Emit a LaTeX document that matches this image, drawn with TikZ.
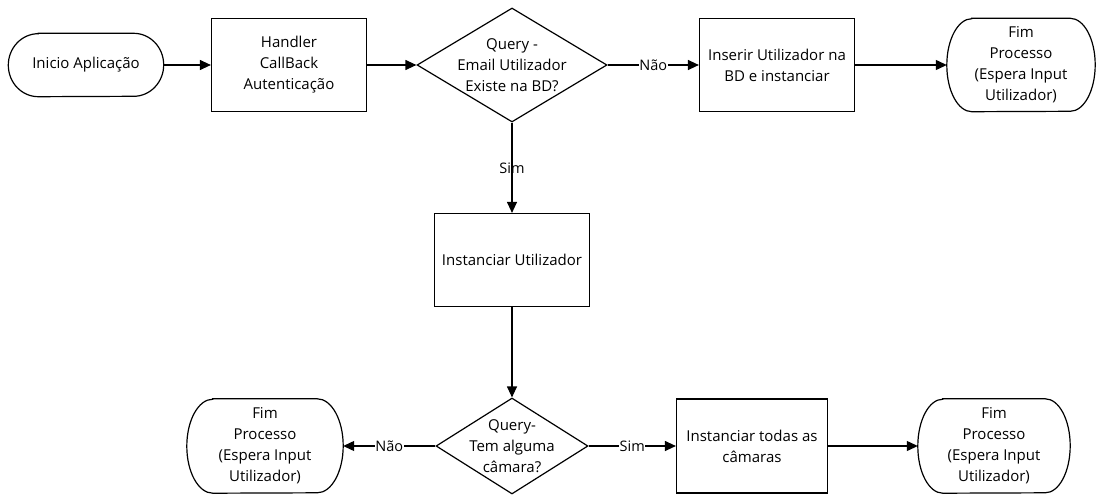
\documentclass[tikz,border=0pt]{standalone}
\usepackage{fontspec}
\setmainfont{Open Sans}
\usetikzlibrary{shapes.geometric,arrows.meta}
\begin{document}
\begin{tikzpicture}[x=1pt,y=-1pt,
  every node/.style={font=\fontsize{15}{21}\selectfont, align=center, text=black},
  box/.style={draw, line width=1.2pt, minimum width=155pt, minimum height=93pt, inner sep=0pt},
  term/.style={minimum height=93pt, inner sep=0pt},
  dec/.style={draw, diamond, line width=1.2pt, inner sep=0pt},
  arr/.style={line width=1.2pt, -{Triangle[length=11pt,width=10pt]}},
  lbl/.style={fill=white, inner sep=0.5pt, font=\fontsize{14.5}{17}\selectfont},
  vlbl/.style={inner sep=0pt, font=\fontsize{14.5}{17}\selectfont}]
\useasboundingbox (0,0) rectangle (1097,495);

% top row
\node[term, minimum width=155pt, minimum height=63pt] (start) at (86,65) {Inicio Aplicação};
\node[box] (handler) at (289,65) {Handler\\CallBack\\Autenticação};
\node[dec, minimum width=190pt, minimum height=114pt,
      label={center:{Query -\\Email Utilizador\\Existe na BD?}}] (q1) at (512,65) {};
\node[box] (ins) at (777,65) {Inserir Utilizador na\\BD e instanciar};
\node[term, minimum width=148pt] (fimA) at (1021,65) {Fim\\Processo\\(Espera Input\\Utilizador)};

% middle
\node[box] (instU) at (512,260) {Instanciar Utilizador};

% bottom row
\node[dec, minimum width=152pt, minimum height=96pt,
      label={center:{Query-\\Tem alguma\\câmara?}}] (q2) at (512,446) {};
\node[term, minimum width=156pt, minimum height=94pt] (fimB) at (265,446) {Fim\\Processo\\(Espera Input\\Utilizador)};
\node[box, minimum width=151pt, minimum height=94pt] (instT) at (752,446) {Instanciar todas as\\câmaras};
\node[term, minimum width=152pt, minimum height=94pt] (fimC) at (994,446) {Fim\\Processo\\(Espera Input\\Utilizador)};

% terminal outlines with elliptical ends
\foreach \nm/\d/\r in {start/30/31.5, fimA/25/46.5, fimB/26/47, fimC/25/47}
  \draw[line width=1.2pt] ([xshift=\d pt]\nm.north west) -- ([xshift=-\d pt]\nm.north east)
    arc[start angle=90, end angle=-90, x radius=\d pt, y radius=\r pt]
    -- ([xshift=\d pt]\nm.south west)
    arc[start angle=270, end angle=90, x radius=\d pt, y radius=\r pt] -- cycle;

% connectors
\draw[arr] (start) -- (handler);
\draw[arr] (handler) -- (q1);
\draw[arr] (q1) -- node[lbl]{Não} (ins);
\draw[arr] (ins) -- (fimA);
\draw[arr] (q1) -- node[vlbl]{Sim} (instU);
\draw[arr] (instU) -- (q2);
\draw[arr] (q2) -- node[lbl]{Não} (fimB);
\draw[arr] (q2) -- node[lbl]{Sim} (instT);
\draw[arr] (instT) -- (fimC);
\end{tikzpicture}
\end{document}
